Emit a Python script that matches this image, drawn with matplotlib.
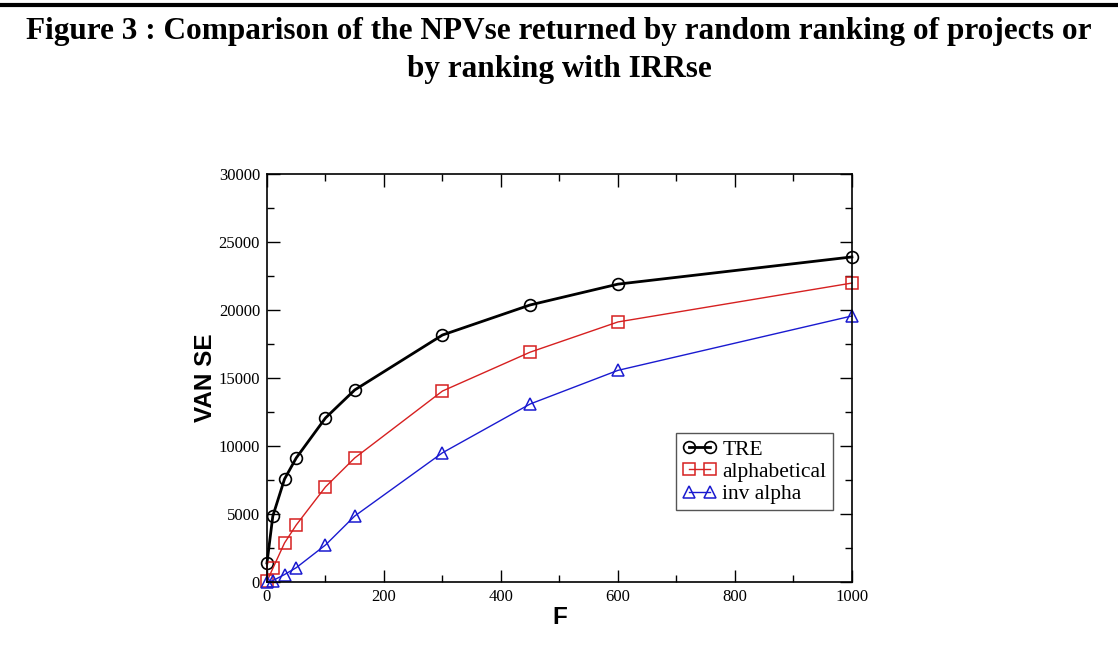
import matplotlib.pyplot as plt
from matplotlib.ticker import MultipleLocator

# F values (same for all three series)
f_vals = [0, 10, 30, 50, 100, 150, 300, 450, 600, 1000]

tre = [1400, 4850, 7570, 9120, 12060, 14120, 18160, 20370, 21900, 23900]
alphabetical = [50, 1000, 2870, 4190, 6990, 9120, 14040, 16900, 19120, 21980]
inv_alpha = [0, 100, 550, 1050, 2720, 4850, 9500, 13090, 15560, 19560]

series_names = ['TRE', 'alphabetical', 'inv alpha']

fig = plt.figure(figsize=(11.18, 6.64), dpi=100)

# thick rule at the top of the page and the caption
fig.add_artist(plt.Line2D([0, 1], [0.993, 0.993], color='black', lw=3,
                          transform=fig.transFigure))
fig.text(0.5, 0.952, 'Figure 3 : Comparison of the NPVse returned by random ranking of projects or',
         ha='center', va='center', fontsize=22.5, fontweight='bold', family='Liberation Serif')
fig.text(0.5, 0.895, 'by ranking with IRRse',
         ha='center', va='center', fontsize=22.5, fontweight='bold', family='Liberation Serif')

ax = fig.add_axes([0.2388, 0.1235, 0.5232, 0.6145])

ax.plot(f_vals, tre, '-o', color='black', lw=2, mfc='none', mec='black',
        ms=8.5, mew=1.2, label=series_names[0], clip_on=False)
ax.plot(f_vals, alphabetical, '-s', color='#d62020', lw=1, mfc='none', mec='#d62020',
        ms=8.5, mew=1.1, label=series_names[1], clip_on=False)
ax.plot(f_vals, inv_alpha, '-^', color='#1a1ad0', lw=1, mfc='none', mec='#1a1ad0',
        ms=8.5, mew=1.1, label=series_names[2], clip_on=False)

ax.set_xlim(0, 1000)
ax.set_ylim(0, 30000)
ax.xaxis.set_major_locator(MultipleLocator(200))
ax.xaxis.set_minor_locator(MultipleLocator(100))
ax.yaxis.set_major_locator(MultipleLocator(5000))
ax.yaxis.set_minor_locator(MultipleLocator(2500))
ax.tick_params(which='both', direction='in', top=True, right=True, width=1)
ax.tick_params(which='major', length=9, pad=5)
ax.tick_params(which='minor', length=5)
for lab in ax.get_xticklabels() + ax.get_yticklabels():
    lab.set_family('Liberation Serif')
    lab.set_fontsize(12)
for s in ax.spines.values():
    s.set_linewidth(1.2)

ax.set_xlabel('F', fontsize=17.5, fontweight='bold', family='Liberation Sans', labelpad=1)
ax.set_ylabel('VAN SE', fontsize=17.5, fontweight='bold', family='Liberation Sans', labelpad=1)

leg = ax.legend(loc='upper left', bbox_to_anchor=(0.699, 0.365), borderaxespad=0,
                fancybox=False, edgecolor='#555555', framealpha=1, numpoints=2,
                handlelength=1.6, handletextpad=0.25, labelspacing=0.1, borderpad=0.3,
                prop={'family': 'Liberation Serif', 'size': 15.5})
leg.get_frame().set_linewidth(1)

fig.savefig('out.png', dpi=100)
